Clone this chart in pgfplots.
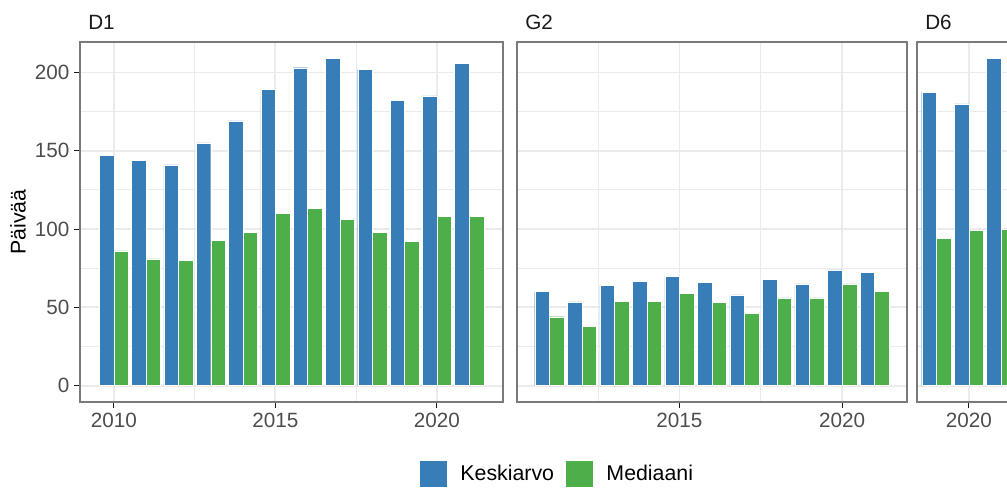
\documentclass[border=0pt]{standalone}
\usepackage{fontspec}
\setmainfont{Liberation Sans}
\usepackage{pgfplots}
\pgfplotsset{compat=1.18}
\definecolor{cblue}{HTML}{377EB8}
\definecolor{cgreen}{HTML}{4DAF4A}
\definecolor{grid92}{HTML}{EBEBEB}
\definecolor{grey30}{HTML}{4D4D4D}
\definecolor{grey10}{HTML}{1A1A1A}
\definecolor{frame}{HTML}{7A7A7A}
\pgfplotsset{
  facet/.style={
    scale only axis,
    height=270pt,
    ymin=-10.45, ymax=219.45,
    ytick={0,50,100,150,200},
    minor ytick={25,75,125,175},
    minor xtick={2012.5,2017.5},
    grid=both,
    major grid style={grid92, line width=1.4pt},
    minor grid style={grid92, line width=0.7pt},
    axis line style={frame, line width=0.8pt},
    tick align=outside,
    major tick length=4.5pt,
    minor tick length=0pt,
    tick style={grey10, line width=0.8pt},
    xtick pos=bottom, ytick pos=left,
    ticklabel style={font=\fontsize{15.5}{18}\selectfont, text=grey30},
    /pgf/number format/assume math mode=true,
    /pgf/number format/1000 sep={},
    every axis title/.style={at={(axis description cs:0,1)}, anchor=base west, inner sep=0pt, xshift=6pt, yshift=9pt, font=\fontsize{15.5}{18}\selectfont, text=grey10},
    bar width=0.45,
  },
  bluebar/.style={ybar, fill=cblue, draw=white, line width=0.3pt, bar shift=-0.225},
  greenbar/.style={ybar, fill=cgreen, draw=white, line width=0.3pt, bar shift=0.225},
}
\begin{document}
\begin{tikzpicture}
\useasboundingbox (0,0) rectangle (755.25pt,366pt);
\clip (0,0) rectangle (755.25pt,366pt);
% Panel D1
\begin{axis}[facet, at={(60pt,64.5pt)}, anchor=south west, width=317.25pt,
  xmin=2008.955, xmax=2022.045, xtick={2010,2015,2020},
  title={D1},
  ylabel={Päivää},
  every axis y label/.style={at={(axis description cs:-0.1466,0.5)}, rotate=90, anchor=center, font=\fontsize{16}{19}\selectfont, text=black},
  legend columns=-1,
  legend image code/.code={\fill[#1] (0pt,-10pt) rectangle (21pt,10pt);},
  legend style={at={(axis description cs:1.125,-0.2)}, anchor=center, draw=none, fill=none,
    font=\fontsize{16}{19}\selectfont, inner sep=0pt,
    nodes={inner sep=0pt, anchor=west},
    /tikz/every even column/.append style={column sep=8pt},
    /tikz/every odd column/.append style={column sep=10pt}},
]
\addplot[bluebar] coordinates {(2010,147) (2011,144) (2012,141) (2013,155) (2014,169) (2015,189) (2016,203) (2017,209) (2018,202) (2019,182) (2020,185) (2021,206)};
\addplot[greenbar] coordinates {(2010,86) (2011,81) (2012,80) (2013,93) (2014,98) (2015,110) (2016,113) (2017,106) (2018,98) (2019,92) (2020,108) (2021,108)};
\legend{Keskiarvo, Mediaani}
\end{axis}
% Panel G2
\begin{axis}[facet, at={(387.75pt,64.5pt)}, anchor=south west, width=292.5pt,
  xmin=2010.005, xmax=2021.995, xtick={2015,2020},
  yticklabels={}, ytick style={draw=none},
  title={G2},
]
\addplot[bluebar] coordinates {(2011,60) (2012,53.5) (2013,64) (2014,66.5) (2015,70) (2016,66) (2017,58) (2018,68) (2019,65) (2020,74) (2021,72.5)};
\addplot[greenbar] coordinates {(2011,44) (2012,38) (2013,54) (2014,54) (2015,59) (2016,53) (2017,46) (2018,56) (2019,56) (2020,65) (2021,60)};
\end{axis}
% Panel D6
\begin{axis}[facet, at={(687.75pt,64.5pt)}, anchor=south west, width=77.7pt,
  xmin=2018.405, xmax=2021.595, xtick={2020},
  yticklabels={}, ytick style={draw=none},
  title={D6},
]
\addplot[bluebar] coordinates {(2019,187.5) (2020,180) (2021,209)};
\addplot[greenbar] coordinates {(2019,94) (2020,99) (2021,100)};
\end{axis}
\end{tikzpicture}
\end{document}
